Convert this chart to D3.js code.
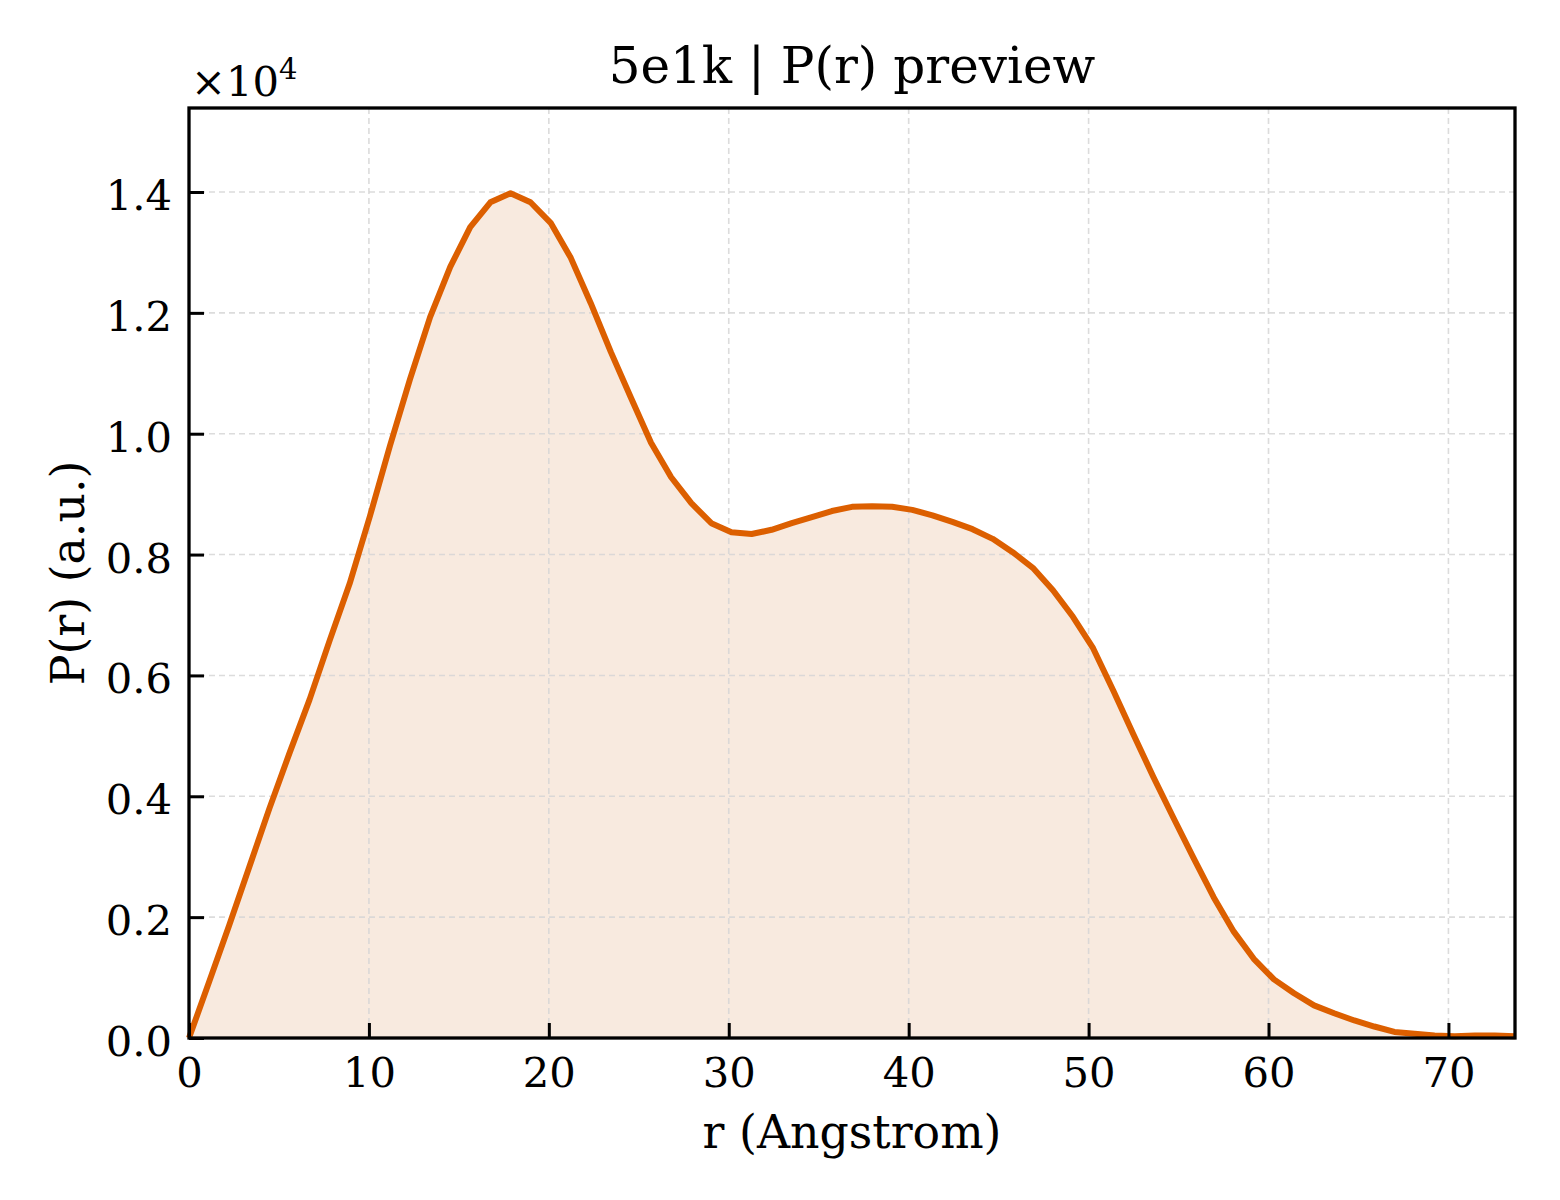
<!DOCTYPE html>
<html>
<head>
<meta charset="utf-8">
<script src="https://cdn.jsdelivr.net/npm/d3@7"></script>
<style>
  body { margin: 0; background: #fff; }
  svg { display: block; font-family: "DejaVu Serif", serif; }
</style>
</head>
<body>
<div id="chart"></div>
<script>
// sampled r grid (Angstrom)
const rValues = [
  0, 1.12, 2.23, 3.35, 4.47, 5.58, 6.70, 7.82, 8.93, 10.05,
  11.17, 12.28, 13.40, 14.52, 15.63, 16.75, 17.87, 18.98, 20.10, 21.22,
  22.33, 23.45, 24.57, 25.68, 26.80, 27.92, 29.03, 30.15, 31.27, 32.38,
  33.50, 34.62, 35.73, 36.85, 37.97, 39.08, 40.20, 41.32, 42.43, 43.55,
  44.67, 45.78, 46.90, 48.02, 49.13, 50.25, 51.37, 52.48, 53.60, 54.72,
  55.83, 56.95, 58.07, 59.18, 60.30, 61.42, 62.53, 63.65, 64.77, 65.88,
  67.00, 68.12, 69.23, 70.35, 71.47, 72.58, 73.70
];

// P(r), arbitrary units
const prValues = [
  0, 930, 1860, 2830, 3800, 4710, 5600, 6580, 7520, 8630,
  9800, 10900, 11930, 12760, 13420, 13830, 13980, 13830, 13490, 12910,
  12160, 11350, 10590, 9850, 9280, 8850, 8520, 8370, 8340, 8410,
  8520, 8620, 8720, 8790, 8800, 8790, 8740, 8650, 8540, 8420,
  8260, 8040, 7780, 7410, 6970, 6450, 5750, 5030, 4320, 3640,
  2980, 2330, 1760, 1310, 970, 740, 540, 410, 290, 190,
  100, 70, 40, 30, 40, 40, 30
];

const xTicks = [0, 10, 20, 30, 40, 50, 60, 70];
const yTicks = [0, 0.2, 0.4, 0.6, 0.8, 1.0, 1.2, 1.4];

const titleText = '5e1k | P(r) preview';
const xLabel = 'r (Angstrom)';
const yLabel = 'P(r) (a.u.)';

const lineColor = '#dc5f00';
const fillColor = '#f8eadf';
const gridColor = '#d6d6d6';

function drawPr(selector) {
  const width = 1560;
  const height = 1200;
  const margin = { top: 108, right: 45, bottom: 162, left: 189 };
  const innerW = width - margin.left - margin.right;
  const innerH = height - margin.top - margin.bottom;
  const scaleExp = 1e4;
  const tickFont = 41.7;

  const data = rValues.map((r, i) => ({ r: r, p: prValues[i] / scaleExp }));

  const svg = d3.select(selector).append('svg')
    .attr('width', width)
    .attr('height', height);

  const g = svg.append('g')
    .attr('transform', `translate(${margin.left}, ${margin.top})`);

  const x = d3.scaleLinear().domain([0, 73.7]).range([0, innerW]);
  const y = d3.scaleLinear().domain([0, 1.539]).range([innerH, 0]);

  // filled area under the curve
  g.append('path')
    .datum(data)
    .attr('fill', fillColor)
    .attr('d', d3.area().x(d => x(d.r)).y0(y(0)).y1(d => y(d.p)));

  // dashed grid
  const grid = g.append('g').attr('class', 'grid');
  grid.selectAll('line.gx')
    .data(xTicks.filter(t => t > 0))
    .join('line')
    .attr('class', 'gx')
    .attr('x1', d => x(d)).attr('x2', d => x(d))
    .attr('y1', 0).attr('y2', innerH);
  grid.selectAll('line.gy')
    .data(yTicks.filter(t => t > 0))
    .join('line')
    .attr('class', 'gy')
    .attr('x1', 0).attr('x2', innerW)
    .attr('y1', d => y(d)).attr('y2', d => y(d));
  grid.selectAll('line')
    .attr('stroke', gridColor)
    .attr('stroke-width', 1.6)
    .attr('stroke-dasharray', '6,4')
    .attr('opacity', 0.85);

  // curve
  g.append('path')
    .datum(data)
    .attr('fill', 'none')
    .attr('stroke', lineColor)
    .attr('stroke-width', 6)
    .attr('stroke-linejoin', 'round')
    .attr('d', d3.line().x(d => x(d.r)).y(d => y(d.p)));

  // axes with inward ticks
  const xAxis = g.append('g')
    .attr('transform', `translate(0, ${innerH})`)
    .call(d3.axisBottom(x).tickValues(xTicks).tickSize(-15).tickPadding(19).tickFormat(d3.format('d')));
  const yAxis = g.append('g')
    .call(d3.axisLeft(y).tickValues(yTicks).tickSize(-15).tickPadding(17).tickFormat(d3.format('.1f')));

  [xAxis, yAxis].forEach(ax => {
    ax.select('.domain').remove();
    ax.selectAll('.tick line').attr('stroke', '#000').attr('stroke-width', 3);
    ax.selectAll('.tick text')
      .attr('fill', '#000')
      .style('font-family', '"DejaVu Serif", serif')
      .style('font-size', tickFont + 'px');
  });
  yAxis.selectAll('.tick text').attr('dy', '0.42em');

  // frame
  g.append('rect')
    .attr('x', 0).attr('y', 0)
    .attr('width', innerW).attr('height', innerH)
    .attr('fill', 'none')
    .attr('stroke', '#000')
    .attr('stroke-width', 3.3);

  // offset text
  const offset = svg.append('text')
    .attr('x', margin.left + 2)
    .attr('y', 96)
    .style('font-size', tickFont + 'px');
  offset.append('tspan').text('\u00d710');
  offset.append('tspan').attr('dy', -17).style('font-size', '29px').text('4');

  svg.append('text')
    .attr('x', margin.left + innerW / 2)
    .attr('y', 83)
    .attr('text-anchor', 'middle')
    .style('font-size', '50px')
    .text(titleText);

  svg.append('text')
    .attr('x', margin.left + innerW / 2)
    .attr('y', 1148)
    .attr('text-anchor', 'middle')
    .style('font-size', '45.8px')
    .text(xLabel);

  svg.append('text')
    .attr('transform', `translate(84, ${margin.top + innerH / 2}) rotate(-90)`)
    .attr('text-anchor', 'middle')
    .style('font-size', '45.8px')
    .text(yLabel);
}

drawPr('#chart');
</script>
</body>
</html>
